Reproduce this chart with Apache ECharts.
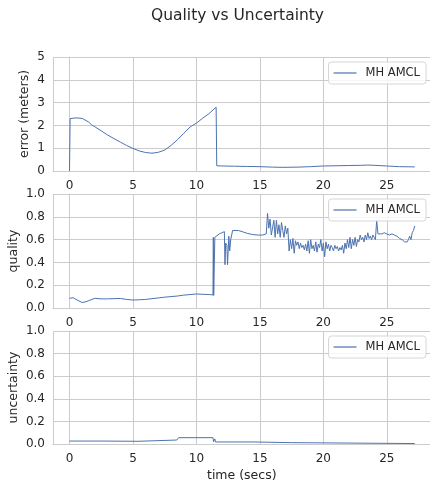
<!DOCTYPE html>
<html>
<head>
<meta charset="utf-8">
<script src="https://cdn.jsdelivr.net/npm/echarts@6/dist/echarts.min.js"></script>
<style>
  html, body { margin: 0; padding: 0; background: #fff; }
  #chart { width: 430px; height: 485px; }
</style>
</head>
<body>
<div id="chart"></div>
<script>
// data
const seriesName = 'MH AMCL'

const errTime = [0, 0.05, 0.5, 1.0, 1.5, 1.75, 2.0, 2.5, 3.0, 3.5, 4.0, 4.5, 5.0, 5.5, 6.0, 6.5, 7.0, 7.5, 8.0, 8.5, 9.0, 9.5, 10.0, 10.5, 11.0, 11.55, 11.6, 12, 13, 14, 15, 16, 16.8, 18, 19, 20, 21, 22, 23, 23.5, 24, 25, 26, 27.2]
const errVal = [0, 2.3, 2.33, 2.31, 2.15, 2.02, 1.94, 1.76, 1.58, 1.42, 1.27, 1.12, 0.99, 0.88, 0.81, 0.78, 0.82, 0.92, 1.12, 1.37, 1.65, 1.93, 2.1, 2.32, 2.52, 2.8, 0.23, 0.22, 0.21, 0.2, 0.19, 0.17, 0.16, 0.17, 0.19, 0.22, 0.23, 0.24, 0.25, 0.26, 0.25, 0.22, 0.19, 0.18]

const qualTime = [0, 0.3, 0.6, 1.0, 1.3, 1.6, 2.0, 2.5, 3, 3.5, 4, 4.5, 5, 5.5, 6, 6.5, 7, 7.5, 8, 8.5, 9, 9.5, 10, 10.5, 11, 11.3,
  11.33, 11.36, 11.4, 11.45, 11.6, 11.8, 12.0, 12.2, 12.25, 12.3, 12.4, 12.45, 12.55, 12.62, 12.7, 12.85, 13.0, 13.3, 13.6, 14.0, 14.4, 14.8, 15.2, 15.5,
  15.6, 15.7, 15.8, 15.9, 16.0, 16.1, 16.2, 16.3, 16.4, 16.5, 16.6, 16.7, 16.8, 16.9, 17.0, 17.1, 17.2, 17.3, 17.4, 17.5, 17.6, 17.7, 17.8, 17.9,
  18.0, 18.1, 18.2, 18.3, 18.4, 18.5, 18.6, 18.7, 18.8, 18.9, 19.0, 19.1, 19.2, 19.3, 19.4, 19.5, 19.6, 19.7, 19.8, 19.9,
  20.0, 20.1, 20.2, 20.3, 20.4, 20.5, 20.6, 20.7, 20.8, 20.9, 21.0, 21.1, 21.2, 21.3, 21.4, 21.5, 21.6, 21.7, 21.8, 21.9,
  22.0, 22.1, 22.2, 22.3, 22.4, 22.5, 22.6, 22.7, 22.8, 22.9, 23.0, 23.1, 23.2, 23.3, 23.4, 23.5, 23.6, 23.7, 23.8, 23.9,
  24.0, 24.1, 24.2, 24.3, 24.4, 24.6, 24.8, 25.0, 25.2, 25.4, 25.6, 25.8, 26.0, 26.2, 26.4, 26.6, 26.7, 26.8, 26.9, 27.0, 27.1, 27.2]
const qualVal = [0.085, 0.09, 0.07, 0.048, 0.055, 0.068, 0.085, 0.08, 0.08, 0.082, 0.084, 0.075, 0.07, 0.072, 0.075, 0.082, 0.088, 0.095, 0.1, 0.105, 0.113, 0.118, 0.123, 0.12, 0.118, 0.115,
  0.62, 0.11, 0.115, 0.62, 0.63, 0.65, 0.66, 0.67, 0.38, 0.57, 0.55, 0.38, 0.63, 0.5, 0.6, 0.68, 0.69, 0.68, 0.67, 0.655, 0.645, 0.64, 0.64, 0.65,
  0.83, 0.7, 0.78, 0.64, 0.63, 0.77, 0.62, 0.77, 0.65, 0.73, 0.62, 0.75, 0.68, 0.62, 0.72, 0.65, 0.7, 0.5, 0.6, 0.52, 0.61, 0.48, 0.59, 0.55,
  0.58, 0.52, 0.57, 0.53, 0.55, 0.51, 0.56, 0.5, 0.59, 0.48, 0.6, 0.52, 0.55, 0.5, 0.58, 0.49, 0.56, 0.53, 0.6, 0.5,
  0.57, 0.45, 0.58, 0.52, 0.56, 0.5, 0.55, 0.53, 0.5, 0.55, 0.52, 0.54, 0.5, 0.53, 0.51, 0.55, 0.48, 0.57, 0.52, 0.6,
  0.53, 0.62, 0.52, 0.6, 0.55, 0.62, 0.54, 0.6, 0.58, 0.64, 0.6, 0.62, 0.58, 0.64, 0.6, 0.66, 0.61, 0.63, 0.6, 0.64,
  0.62, 0.6, 0.77, 0.65, 0.66, 0.65, 0.66, 0.65, 0.64, 0.65, 0.64, 0.63, 0.61, 0.6, 0.58, 0.58, 0.6, 0.63, 0.6, 0.66, 0.68, 0.72]

const uncTime = [0, 2.5, 2.55, 5.4, 5.45, 8.45, 8.5, 8.6, 11.3, 11.35, 11.45, 11.5, 14.5, 14.55, 17.5, 17.55, 27.2]
const uncVal = [0.026, 0.026, 0.024, 0.024, 0.035, 0.035, 0.05, 0.056, 0.056, 0.02, 0.045, 0.018, 0.018, 0.012, 0.012, 0.005, 0.004]

const xMin = -1.3
const xMax = 28.4

const font = 'DejaVu Sans'
const textColor = '#262626'
const gridColor = '#cccccc'
const lineColor = '#4c72b0'

let myChart = echarts.init(document.getElementById('chart'))

const pairs = (ts, vs) => ts.map((t, i) => [t, vs[i]])

const grids = [
  { left: 53, right: 0, top: 57, height: 114, outerBoundsMode: 'none', containLabel: false },
  { left: 53, right: 0, top: 194, height: 114, outerBoundsMode: 'none', containLabel: false },
  { left: 53, right: 0, top: 331, height: 113, outerBoundsMode: 'none', containLabel: false }
]

function xAxis(i) {
  return {
    type: 'value', gridIndex: i, min: xMin, max: xMax, splitNumber: 6,
    axisLine: { show: true, lineStyle: { color: gridColor, width: 1 } },
    axisTick: { show: false },
    axisLabel: {
      fontFamily: font, fontSize: 12, color: textColor, margin: 9,
      showMinLabel: false, showMaxLabel: false,
      formatter: v => (Math.abs(v % 5) < 1e-9 ? String(v) : '')
    },
    splitLine: { show: true, lineStyle: { color: gridColor, width: 1 } }
  }
}

function yAxis(i, name, max, interval, digits, gap) {
  return {
    type: 'value', gridIndex: i, min: 0, max: max, interval: interval,
    name: name, nameLocation: 'middle', nameGap: gap, nameMoveOverlap: false,
    nameTextStyle: { fontFamily: font, fontSize: 12.5, color: textColor },
    axisLine: { show: true, lineStyle: { color: gridColor, width: 1 } },
    axisTick: { show: false },
    axisLabel: { fontFamily: font, fontSize: 12, color: textColor, margin: 8,
      formatter: v => v.toFixed(digits) },
    splitLine: { show: true, lineStyle: { color: gridColor, width: 1 } }
  }
}

function legend(top) {
  return {
    data: [seriesName], right: 4, top: top, orient: 'vertical',
    icon: 'rect', itemWidth: 23, itemHeight: 1.2, itemGap: 0,
    padding: [5, 6, 5, 5],
    backgroundColor: 'rgba(255,255,255,0.8)',
    borderColor: '#d6d6d6', borderWidth: 1, borderRadius: 3,
    textStyle: { fontFamily: font, fontSize: 11.5, color: textColor, padding: [0, 0, 0, 4] }
  }
}

function line(i, data) {
  return {
    name: seriesName, type: 'line', xAxisIndex: i, yAxisIndex: i,
    data: data, showSymbol: false, symbol: 'none',
    lineStyle: { color: lineColor, width: 1 }, itemStyle: { color: lineColor }
  }
}

let opt = {
  animation: false,
  backgroundColor: '#fff',
  title: [
    {
      text: 'Quality vs Uncertainty', left: 151, top: 8, padding: 0,
      textStyle: { fontFamily: font, fontSize: 15.5, fontWeight: 'normal', color: textColor }
    },
    {
      text: 'time (secs)', left: 207, top: 469, padding: 0,
      textStyle: { fontFamily: font, fontSize: 12.5, fontWeight: 'normal', color: textColor }
    }
  ],
  grid: grids,
  legend: [legend(62), legend(199), legend(336)],
  xAxis: [xAxis(0), xAxis(1), xAxis(2)],
  yAxis: [
    yAxis(0, 'error (meters)', 5, 1, 0, 22),
    yAxis(1, 'quality', 1, 0.2, 1, 33),
    yAxis(2, 'uncertainty', 1, 0.2, 1, 33)
  ],
  series: [
    line(0, pairs(errTime, errVal)),
    line(1, pairs(qualTime, qualVal)),
    line(2, pairs(uncTime, uncVal))
  ]
}

myChart.setOption(opt)
</script>
</body>
</html>
